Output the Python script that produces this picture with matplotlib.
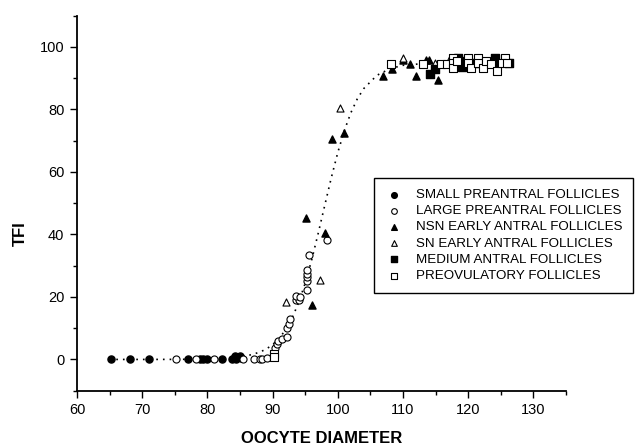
import matplotlib
matplotlib.use('Agg')
import matplotlib.pyplot as plt

plt.rcParams['font.family'] = ['Liberation Sans', 'DejaVu Sans']

# values (oocyte diameter, TFI)
small_x = [65.2, 68.1, 71.1, 77.1, 78.9, 79.4, 80.0, 82.3, 83.8, 84.2, 84.4, 85.0, 85.2]
small_y = [0, 0, 0, 0, 0, 0, 0, 0, 0.3, 1.0, 0, 1.2, 0.4]

large_x = [75.2, 78.2, 81.0, 85.5, 87.1, 88.1, 88.4, 89.2, 90.4, 90.7, 90.9, 91.4,
           92.2, 92.2, 92.5, 92.7, 93.6, 94.1, 93.6, 94.2, 95.2, 95.2, 95.2, 95.2,
           95.2, 95.6, 98.3]
large_y = [0, 0, 0, 0, 0, 0.3, 0, 0.5, 3.7, 4.8, 5.9, 6.6,
           7.2, 9.9, 11.4, 13.0, 18.9, 18.9, 20.4, 19.9, 22.2, 25.2, 26.3, 27.4,
           28.6, 33.3, 38.2]

nsn_x = [95.1, 96.1, 98.1, 99.1, 101.0, 107.0, 108.3, 110.0, 111.0, 112.0, 113.5, 114.0, 115.3]
nsn_y = [45.3, 17.3, 40.4, 70.4, 72.3, 90.7, 92.8, 95.8, 94.4, 90.7, 95.8, 95.8, 89.4]

sn_x = [92.1, 97.2, 100.3, 110.0, 114.9, 117.0]
sn_y = [18.3, 25.4, 80.5, 96.5, 94.9, 95.8]

medium_x = [114.1, 114.9, 118.5, 119.0, 119.5, 121.2, 124.1, 124.1, 126.2]
medium_y = [91.2, 92.8, 96.5, 93.5, 95.5, 94.9, 96.5, 94.9, 94.9]

preov_x = [90.2, 90.2, 108.2, 113.1, 115.8, 116.8, 117.7, 117.7, 117.7, 118.3, 119.9,
           119.9, 120.5, 121.5, 121.5, 122.3, 122.8, 123.5, 124.4, 125.6, 125.2, 125.9]
preov_y = [1.9, 0.9, 94.4, 94.4, 94.4, 94.4, 96.5, 94.9, 93.3, 95.5, 96.5,
           94.9, 93.3, 96.5, 94.9, 93.3, 95.5, 94.4, 92.3, 96.5, 94.9, 94.9]

# dotted fit curve, points read along it
curve_x = [65, 70, 75, 80, 84, 86, 88, 89, 90, 91, 92, 93, 94, 95, 96, 97, 98, 99,
           100, 101, 102, 103, 104, 106, 108, 110, 114, 120, 126]
curve_y = [0, 0, 0.02, 0.1, 0.5, 1.1, 2.3, 3.3, 4.7, 6.7, 9.5, 13.3, 18.2, 24.4, 31.9,
           40.4, 49.3, 58.1, 66.2, 73.2, 78.9, 83.4, 86.7, 90.9, 93.0, 94.1, 94.8, 95, 95]

fig = plt.figure(figsize=(6.42, 4.46), dpi=100)
ax = fig.add_axes([77 / 642, 1 - 390.7 / 446, (566 - 77) / 642, (390.7 - 15.6) / 446])

ax.plot(curve_x, curve_y, color='black', linestyle=(0, (1, 3)), linewidth=1.2, zorder=1)

ms = 26
ax.scatter(small_x, small_y, s=ms, marker='o', c='black', label='SMALL PREANTRAL FOLLICLES', zorder=3)
ax.scatter(large_x, large_y, s=ms, marker='o', facecolors='white', edgecolors='black',
           linewidths=0.8, label='LARGE PREANTRAL FOLLICLES', zorder=3)
ax.scatter(nsn_x, nsn_y, s=ms, marker='^', c='black', label='NSN EARLY ANTRAL FOLLICLES', zorder=3)
ax.scatter(sn_x, sn_y, s=ms, marker='^', facecolors='white', edgecolors='black',
           linewidths=0.8, label='SN EARLY ANTRAL FOLLICLES', zorder=3)
ax.scatter(medium_x, medium_y, s=ms, marker='s', c='black', label='MEDIUM ANTRAL FOLLICLES', zorder=3)
ax.scatter(preov_x, preov_y, s=ms, marker='s', facecolors='white', edgecolors='black',
           linewidths=0.8, label='PREOVULATORY FOLLICLES', zorder=3)

ax.set_xlim(60, 135)
ax.set_ylim(-10, 110)
ax.set_xticks(range(60, 131, 10))
ax.set_xticks(range(65, 136, 10), minor=True)
ax.set_yticks(range(0, 101, 20))
ax.set_yticks(range(-10, 111, 20), minor=True)
ax.tick_params(which='major', length=5, width=1, labelsize=10.5, pad=4, direction='out')
ax.tick_params(which='minor', length=3, width=1, direction='out')

ax.spines['top'].set_visible(False)
ax.spines['right'].set_visible(False)
ax.spines['left'].set_linewidth(1.3)
ax.spines['bottom'].set_linewidth(1.3)

ax.set_xlabel('OOCYTE DIAMETER', fontsize=12, fontweight='bold')
ax.xaxis.set_label_coords(0.5, -0.107)
ax.set_ylabel('TFI', fontsize=12, fontweight='bold')
ax.yaxis.set_label_coords(-0.10, 0.42)

leg = ax.legend(loc='upper left', bbox_to_anchor=(374 / 642, 1 - 178 / 446),
                bbox_transform=fig.transFigure, borderaxespad=0, fontsize=9.6,
                frameon=True, fancybox=False, edgecolor='black', framealpha=1,
                borderpad=0.8, labelspacing=0.29, handlelength=1.4,
                handletextpad=0.95, scatterpoints=1, markerscale=0.8)
leg.get_frame().set_linewidth(1.0)

fig.savefig('out.png', dpi=100)
